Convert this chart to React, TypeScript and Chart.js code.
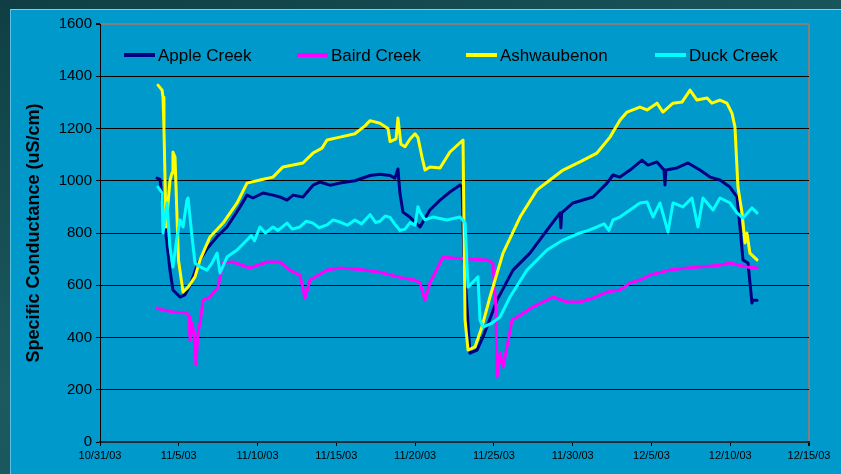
import React, { useEffect, useRef } from "react";
import { Chart, registerables } from "chart.js";

Chart.register(...registerables);

// x values are days after 10/31/03
const xTickLabels = ["10/31/03", "11/5/03", "11/10/03", "11/15/03", "11/20/03", "11/25/03", "11/30/03", "12/5/03", "12/10/03", "12/15/03"];
const yTickStep = 200;

const seriesNames = ["Apple Creek", "Baird Creek", "Ashwaubenon", "Duck Creek"];
const seriesColors = ["#000080", "#FF00FF", "#FFFF00", "#00FFFF"];

const appleCreek: [number, number][] = [
  [3.62, 1010], [3.81, 1005], [4.0, 900], [4.25, 760], [4.44, 658], [4.63, 582], [5.08, 555], [5.39, 563], [5.71, 600],
  [6.22, 685], [6.79, 740], [7.49, 790], [8.06, 823], [8.89, 900], [9.33, 945], [9.71, 934], [10.35, 953], [10.98, 945],
  [11.42, 938], [11.87, 926], [12.25, 945], [12.88, 938], [13.52, 983], [13.96, 995], [14.6, 983], [15.23, 991],
  [16.18, 1000], [17.14, 1020], [17.77, 1025], [18.41, 1020], [18.72, 1010], [18.91, 1045], [19.04, 950], [19.23, 880],
  [19.68, 860], [20.31, 823], [20.94, 888], [21.58, 926], [22.21, 957], [22.85, 984], [22.98, 975], [23.1, 700],
  [23.36, 450], [23.48, 340], [23.93, 352], [24.31, 402], [25.2, 543], [26.21, 658], [27.29, 723], [28.37, 811],
  [29.2, 877], [29.25, 820], [29.3, 877], [30.02, 915], [31.29, 938], [32.18, 991], [32.56, 1022], [33.0, 1014],
  [33.64, 1041], [34.4, 1079], [34.78, 1060], [35.35, 1072], [35.8, 1041], [35.86, 984], [35.92, 1041], [36.62, 1049],
  [37.32, 1068], [38.08, 1041], [38.72, 1014], [39.35, 1003], [39.98, 976], [40.43, 938], [40.62, 823], [40.81, 697],
  [41.13, 685], [41.38, 532], [41.44, 543], [41.7, 543],
];

const bairdCreek: [number, number][] = [
  [3.62, 513], [4.0, 505], [4.63, 498], [5.52, 494], [5.65, 480], [5.71, 390], [5.84, 455], [5.95, 420], [6.09, 295],
  [6.22, 420], [6.35, 455], [6.54, 543], [6.98, 555], [7.49, 593], [7.81, 685], [8.44, 689], [9.52, 666], [10.6, 689],
  [11.42, 689], [12.06, 658], [12.69, 639], [13.01, 551], [13.33, 620], [14.41, 658], [15.23, 666], [16.5, 660],
  [17.77, 650], [19.04, 630], [19.99, 620], [20.31, 609], [20.63, 543], [20.94, 609], [21.77, 708], [22.4, 704],
  [24.56, 697], [24.94, 685], [25.13, 517], [25.2, 249], [25.39, 340], [25.58, 287], [25.83, 364], [26.15, 467],
  [26.47, 478], [27.48, 517], [28.37, 543], [28.75, 555], [29.64, 536], [30.46, 536], [31.29, 551], [32.18, 574],
  [33.0, 582], [33.64, 609], [34.27, 620], [34.91, 639], [36.18, 658], [37.26, 666], [39.35, 677], [39.98, 685],
  [41.06, 670], [41.7, 666],
];

const ashwaubenon: [number, number][] = [
  [3.68, 1366], [3.94, 1347], [4.0, 1320], [4.06, 1200], [4.19, 823], [4.44, 1000], [4.57, 1030], [4.63, 1110],
  [4.76, 1091], [4.98, 697], [5.27, 574], [5.59, 593], [6.03, 632], [6.35, 697], [6.98, 785], [7.81, 838], [8.7, 915],
  [9.33, 991], [10.15, 1003], [10.98, 1014], [11.61, 1053], [12.25, 1060], [12.88, 1068], [13.52, 1106], [14.09, 1125],
  [14.41, 1156], [15.23, 1167], [16.18, 1180], [16.82, 1210], [17.14, 1230], [17.77, 1220], [18.28, 1200], [18.41, 1150],
  [18.79, 1160], [18.91, 1240], [19.1, 1140], [19.36, 1130], [19.68, 1160], [19.99, 1180], [20.18, 1165], [20.44, 1090],
  [20.63, 1041], [20.94, 1053], [21.58, 1049], [22.21, 1110], [23.04, 1156], [23.17, 467], [23.36, 352], [23.8, 364],
  [24.24, 440], [24.75, 555], [25.58, 723], [26.66, 861], [27.74, 965], [28.56, 1003], [29.39, 1041], [30.46, 1072],
  [31.54, 1106], [32.37, 1167], [33.0, 1232], [33.45, 1263], [34.27, 1282], [34.72, 1271], [35.35, 1297], [35.73, 1263],
  [36.37, 1297], [36.94, 1301], [37.45, 1347], [37.89, 1309], [38.53, 1317], [38.84, 1297], [39.35, 1309], [39.79, 1297],
  [40.11, 1259], [40.3, 1206], [40.49, 976], [40.75, 877], [40.94, 762], [41.06, 800], [41.25, 723], [41.7, 697],
];

const duckCreek: [number, number][] = [
  [3.68, 976], [3.94, 953], [4.0, 800], [4.25, 915], [4.44, 746], [4.63, 670], [4.89, 785], [5.08, 850], [5.27, 823],
  [5.52, 926], [5.59, 934], [5.84, 785], [6.03, 685], [6.35, 670], [6.79, 658], [7.11, 685], [7.43, 723], [7.62, 647],
  [8.06, 708], [8.7, 735], [9.33, 773], [9.6, 790], [9.8, 770], [10.15, 823], [10.5, 800], [10.98, 823], [11.3, 810],
  [11.87, 838], [12.2, 815], [12.69, 823], [13.1, 845], [13.52, 838], [13.9, 820], [14.41, 831], [14.8, 850],
  [15.23, 842], [15.7, 830], [16.18, 850], [16.6, 835], [17.14, 870], [17.5, 840], [17.77, 845], [18.1, 865],
  [18.41, 860], [18.7, 835], [19.04, 810], [19.36, 815], [19.68, 840], [20.0, 830], [20.18, 900], [20.31, 880],
  [20.63, 850], [21.13, 861], [22.02, 850], [22.85, 861], [23.17, 838], [23.36, 593], [23.8, 620], [23.99, 632],
  [24.12, 467], [24.31, 440], [24.88, 455], [25.39, 478], [26.02, 555], [27.1, 658], [28.37, 735], [29.39, 773],
  [30.46, 800], [31.0, 810], [31.54, 823], [32.0, 835], [32.3, 810], [32.56, 850], [33.0, 861], [33.64, 888],
  [34.27, 915], [34.72, 919], [35.1, 861], [35.54, 915], [36.05, 804], [36.37, 915], [37.0, 900], [37.57, 934],
  [37.95, 823], [38.27, 934], [38.91, 888], [39.35, 934], [39.98, 915], [40.43, 877], [40.81, 857], [41.38, 896],
  [41.7, 877],
];

const allSeries = [appleCreek, bairdCreek, ashwaubenon, duckCreek];

const FONT = "'Liberation Sans', Arial, sans-serif";

const legendPlugin = {
  id: "insideLegend",
  afterDraw(chart: any) {
    const ctx = chart.ctx;
    const area = chart.chartArea;
    const offsets = [24, 197, 366, 555];
    const y = area.top + 31;
    ctx.save();
    ctx.font = `17px ${FONT}`;
    ctx.textBaseline = "middle";
    ctx.textAlign = "left";
    seriesNames.forEach((name, i) => {
      const x0 = area.left + offsets[i];
      ctx.strokeStyle = seriesColors[i];
      ctx.lineWidth = 4;
      ctx.beginPath();
      ctx.moveTo(x0, y);
      ctx.lineTo(x0 + 31, y);
      ctx.stroke();
      ctx.fillStyle = "#000";
      ctx.fillText(name, x0 + 34, y + 1);
    });
    ctx.restore();
  },
};

export default function App() {
  const canvasRef = useRef<HTMLCanvasElement | null>(null);

  useEffect(() => {
    const canvas = canvasRef.current;
    if (!canvas) return;
    const chart = new Chart(canvas, {
      type: "line",
      data: {
        datasets: allSeries.map((s, i) => ({
          label: seriesNames[i],
          data: s.map(([x, y]) => ({ x, y })),
          borderColor: seriesColors[i],
          backgroundColor: seriesColors[i],
          borderWidth: 3,
          borderJoinStyle: "round",
          borderCapStyle: "round",
          pointRadius: 0,
          tension: 0,
          fill: false,
          order: allSeries.length - i,
        })),
      },
      options: {
        animation: false,
        responsive: false,
        events: [],
        layout: { padding: { left: 0, top: 24, right: 32, bottom: 0 } },
        plugins: {
          legend: { display: false },
          tooltip: { enabled: false },
        },
        scales: {
          x: {
            type: "linear",
            min: 0,
            max: 45,
            afterFit: (scale: any) => {
              scale.height = 32;
            },
            ticks: {
              stepSize: 5,
              autoSkip: false,
              maxRotation: 0,
              padding: 3,
              color: "#000",
              font: { family: FONT, size: 11 },
              callback: (v: any) => xTickLabels[Math.round(Number(v) / 5)] ?? "",
            },
            grid: {
              drawOnChartArea: true,
              drawTicks: true,
              tickLength: 4,
              color: (c: any) => (c.tick && c.tick.value === 45 ? "#808080" : "rgba(0,0,0,0)"),
              lineWidth: (c: any) => (c.tick && c.tick.value === 45 ? 2 : 1),
              tickColor: "#000",
            },
            border: { display: true, color: "#17303a", width: 2 },
          },
          y: {
            min: 0,
            max: 1600,
            afterFit: (scale: any) => {
              scale.width = 100;
            },
            ticks: {
              stepSize: yTickStep,
              padding: 4,
              color: "#000",
              font: { family: FONT, size: 15 },
              callback: (v: any) => String(v),
            },
            grid: {
              drawTicks: true,
              tickLength: 4,
              color: (c: any) => {
                const v = c.tick ? c.tick.value : -1;
                if (v === 1600) return "#808080";
                if (v === 0) return "rgba(0,0,0,0)";
                return "#000";
              },
              lineWidth: (c: any) => (c.tick && c.tick.value === 1600 ? 2 : 1),
              tickColor: "#000",
            },
            border: { display: true, color: "#000", width: 1 },
            title: {
              display: true,
              text: "Specific Conductance (uS/cm)",
              color: "#000",
              font: { family: FONT, size: 18, weight: "bold" },
              padding: { top: 23, bottom: 0 },
            },
          },
        },
      },
      plugins: [legendPlugin],
    });
    return () => chart.destroy();
  }, []);

  return (
    <div
      style={{
        position: "fixed",
        left: 0,
        top: 0,
        width: 841,
        height: 474,
        overflow: "hidden",
        background: "linear-gradient(160deg, #0f3f44 0%, #1b5a60 50%, #165258 100%)",
      }}
    >
      <div
        style={{
          position: "absolute",
          left: 10,
          top: 9,
          width: 900,
          height: 520,
          background: "#0099CC",
          borderTop: "1px solid #7fcfea",
          borderLeft: "1px solid #5fbfe0",
        }}
      />
      <canvas
        ref={canvasRef}
        width={841}
        height={474}
        style={{ position: "absolute", left: 0, top: 0, width: 841, height: 474 }}
      />
    </div>
  );
}
